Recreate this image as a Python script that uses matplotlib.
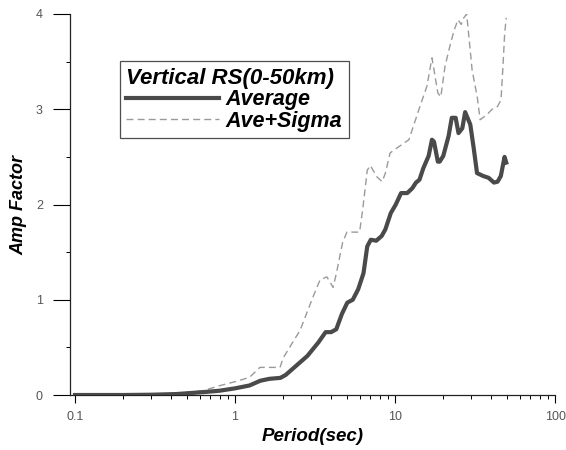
import matplotlib
matplotlib.use("Agg")
import matplotlib.pyplot as plt
from matplotlib.ticker import FixedLocator, LogLocator, NullFormatter

plt.rcParams['font.family'] = ['Liberation Sans', 'DejaVu Sans']

# Average response-spectrum amplification
period_avg = [0.1, 0.2, 0.3, 0.43, 0.63, 0.8, 1.0, 1.23, 1.44, 1.64, 1.92, 2.07, 2.42, 2.83,
              3.31, 3.68, 3.98, 4.29, 4.65, 5.03, 5.44, 5.88, 6.35, 6.7, 7.05, 7.63,
              8.25, 8.7, 9.4, 10.1, 10.9, 11.9, 12.8, 13.5, 14.2, 15.0, 16.2, 17.0,
              17.5, 18.5, 19.0, 20.0, 21.6, 22.6, 23.9, 24.9, 26.3, 27.4, 29.5, 31.0,
              32.5, 35.4, 38.4, 41.5, 43.7, 45.8, 48.3, 49.5]
amp_avg = [0.0, 0.0, 0.003, 0.01, 0.03, 0.045, 0.07, 0.10, 0.15, 0.17, 0.18, 0.21, 0.31, 0.41,
           0.55, 0.66, 0.66, 0.69, 0.85, 0.97, 1.0, 1.11, 1.28, 1.56, 1.63, 1.62,
           1.67, 1.74, 1.91, 2.0, 2.12, 2.12, 2.17, 2.23, 2.26, 2.38, 2.51, 2.68,
           2.66, 2.45, 2.45, 2.51, 2.72, 2.91, 2.91, 2.75, 2.80, 2.97, 2.84, 2.59,
           2.33, 2.30, 2.28, 2.23, 2.24, 2.30, 2.50, 2.44]

# Average + one sigma
period_sig = [0.1, 0.2, 0.3, 0.43, 0.63, 0.81, 1.0, 1.23, 1.43, 1.91, 2.0, 2.55, 3.07, 3.4,
              3.75, 4.1, 4.3, 4.7, 5.0, 6.0, 6.3, 6.7, 7.0, 7.7, 8.3, 8.7, 9.3,
              10.0, 12.2, 14.3, 15.8, 17.0, 18.5, 19.3, 20.5, 22.2, 23.4, 24.7,
              25.9, 26.6, 28.0, 29.2, 30.3, 32.6, 34.0, 37.3, 40.4, 43.7, 45.9,
              47.2, 48.4, 49.5]
amp_sig = [0.0, 0.0, 0.004, 0.015, 0.045, 0.10, 0.14, 0.185, 0.29, 0.29, 0.39, 0.68, 1.03, 1.21,
           1.24, 1.13, 1.28, 1.60, 1.71, 1.71, 1.97, 2.36, 2.41, 2.29, 2.24, 2.33, 2.54,
           2.58, 2.68, 3.03, 3.24, 3.54, 3.17, 3.13, 3.45, 3.69, 3.83, 3.94,
           3.89, 3.95, 4.0, 3.69, 3.41, 3.13, 2.89, 2.94, 3.0, 3.03, 3.10,
           3.45, 3.80, 3.96]

fig = plt.figure(figsize=(5.66, 4.5), dpi=100)
ax = fig.add_axes([0.1228, 0.1222, 0.858, 0.8467])

ax.plot(period_avg, amp_avg, color='#4a4a4a', lw=3.0, solid_joinstyle='round',
        label='Average', zorder=3)
ax.plot(period_sig, amp_sig, color='#9a9a9a', lw=1.0, ls=(0, (5, 3)),
        label='Ave+Sigma', zorder=2)

ax.set_xscale('log')
ax.set_xlim(0.0924, 100)
ax.set_ylim(0, 4)

ax.spines['top'].set_visible(False)
ax.spines['right'].set_visible(False)
for s in ('left', 'bottom'):
    ax.spines[s].set_linewidth(0.9)
    ax.spines[s].set_color('#222222')

ax.xaxis.set_major_locator(FixedLocator([0.1, 1, 10, 100]))
ax.xaxis.set_minor_locator(LogLocator(base=10, subs=range(2, 10)))
ax.xaxis.set_minor_formatter(NullFormatter())
ax.set_xticklabels(['0.1', '1', '10', '100'])
ax.set_yticks([0, 1, 2, 3, 4])
ax.set_yticks([0.5, 1.5, 2.5, 3.5], minor=True)

# tick lengths in points (ref: ~8px / 4px on x, ~17px on y)
ax.tick_params(axis='x', which='major', direction='out', length=5.8, width=0.8,
               labelsize=9, labelcolor='#555555', pad=6)
ax.tick_params(axis='x', which='minor', direction='out', length=3, width=0.7)
ax.tick_params(axis='y', which='major', direction='out', length=12.2, width=0.8,
               labelsize=9, labelcolor='#555555', pad=7)
ax.tick_params(axis='y', which='minor', direction='out', length=3, width=0.7)

ax.set_xlabel('Period(sec)', fontsize=13.5, fontweight='bold', fontstyle='italic', labelpad=3)
ax.set_ylabel('Amp Factor', fontsize=13, fontweight='bold', fontstyle='italic', labelpad=6)

leg = ax.legend(title='Vertical RS(0-50km)', loc='upper left',
                bbox_to_anchor=(0.104, 0.876), borderaxespad=0, frameon=True,
                fancybox=False, edgecolor='#222222', handlelength=4.3,
                handletextpad=0.3, borderpad=0.3, labelspacing=0.02,
                prop={'weight': 'bold', 'style': 'italic', 'size': 15.5},
                title_fontproperties={'weight': 'bold', 'style': 'italic', 'size': 16})
leg.get_frame().set_linewidth(0.9)
leg._legend_box.align = 'left'

fig.savefig('out.png', dpi=100)
